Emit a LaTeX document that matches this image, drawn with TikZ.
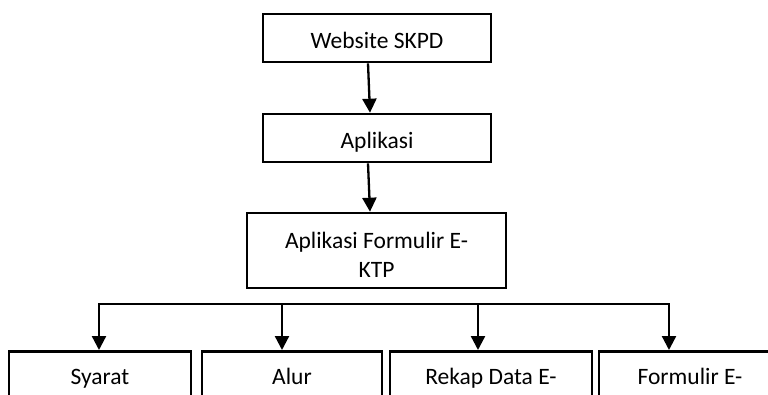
\documentclass[tikz,border=0pt]{standalone}
\usepackage{fontspec}
\setmainfont{Carlito}
\usetikzlibrary{arrows.meta}
\begin{document}
\begin{tikzpicture}[x=1pt,y=-1pt,
  box/.style={draw=black,line width=2.6pt,inner sep=0pt,rectangle},
  lbl/.style={inner sep=0pt,anchor=base,font=\fontsize{23.5}{29}\selectfont},
  arr/.style={line width=2.3pt,-{Triangle[width=14pt,length=14pt]}},
  busline/.style={line width=2.6pt}]
\useasboundingbox (0,0) rectangle (768,394);
\clip (0,0) rectangle (768,394);
% top boxes
\node[box,minimum width=228pt,minimum height=48pt] (b1) at (377,38) {};
\node[lbl] (l1) at (377,48) {Website SKPD};
\node[box,minimum width=228pt,minimum height=48pt] (b2) at (377,138) {};
\node[lbl] (l2) at (377,148) {Aplikasi};
\node[box,minimum width=259pt,minimum height=75pt] (b3) at (376.5,250.5) {};
\node[lbl] (l3a) at (376.5,248) {Aplikasi Formulir E-};
\node[lbl] (l3b) at (376.5,277) {KTP};
% bottom boxes
\node[box,minimum width=182pt,minimum height=80pt,anchor=north] (s1) at (100,350) {};
\node[lbl] (m1) at (100,384) {Syarat};
\node[box,minimum width=180pt,minimum height=80pt,anchor=north] (s2) at (292,350) {};
\node[lbl] (m2) at (292,384) {Alur};
\node[box,minimum width=202pt,minimum height=80pt,anchor=north] (s3) at (491,350) {};
\node[lbl] (m3) at (491,384) {Rekap Data E-};
\node[box,minimum width=182pt,minimum height=80pt,anchor=north] (s4) at (690,350) {};
\node[lbl] (m4) at (690,384) {Formulir E-};
% connectors
\draw[arr] ([xshift=-9pt]b1.south) -- ([xshift=-7pt]b2.north);
\draw[arr] ([xshift=-9pt]b2.south) -- ([xshift=-6.5pt]b3.north);
\coordinate (t1) at (99,304);
\coordinate (t2) at (282,304);
\coordinate (t3) at (478,304);
\coordinate (t4) at (669,304);
\draw[busline,line cap=rect] (t1) -- (t4);
\draw[arr] (t1) -- (t1 |- s1.north);
\draw[arr] (t2) -- (t2 |- s2.north);
\draw[arr] (t3) -- (t3 |- s3.north);
\draw[arr] (t4) -- (t4 |- s4.north);
\end{tikzpicture}
\end{document}
